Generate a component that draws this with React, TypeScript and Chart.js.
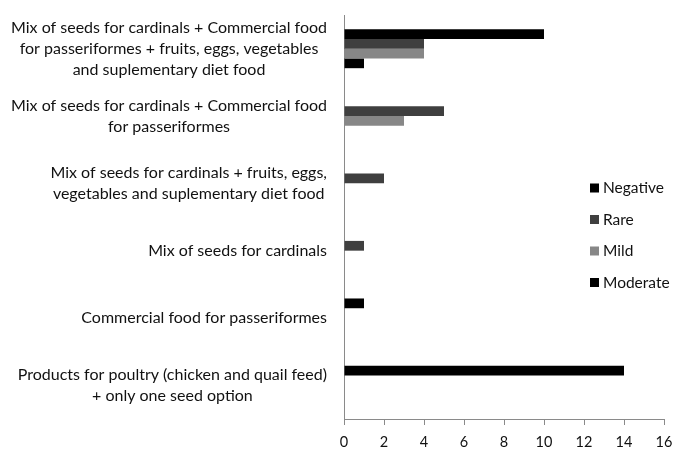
import React, { useEffect, useRef } from "react";
import { Chart, registerables } from "chart.js";

Chart.register(...registerables);

const categories: string[][] = [
  ["Mix of seeds for cardinals + Commercial food", "for passeriformes + fruits, eggs, vegetables", "and suplementary diet food"],
  ["Mix of seeds for cardinals + Commercial food", "for passeriformes"],
  ["Mix of seeds for cardinals + fruits, eggs,", "vegetables and suplementary diet food"],
  ["Mix of seeds for cardinals"],
  ["Commercial food for passeriformes"],
  ["Products for poultry (chicken and quail feed)", "+ only one seed option"],
];

const seriesNames = ["Negative", "Rare", "Mild", "Moderate"];
const negative = [10, 0, 0, 0, 1, 14];
const rare = [4, 5, 2, 1, 0, 0];
const mild = [4, 3, 0, 0, 0, 0];
const moderate = [1, 0, 0, 0, 0, 0];
const seriesColors = ["#000000", "#3f3f3f", "#878787", "#000000"];
const xTicks = [0, 2, 4, 6, 8, 10, 12, 14, 16];

const FONT = "Lato, 'Open Sans', sans-serif";

// Category labels: each block right-aligned to the axis, lines centred within the block
const categoryLabelPlugin = {
  id: "categoryLabels",
  afterDraw(chart: any) {
    const ctx = chart.ctx;
    const yScale = chart.scales.y;
    const right = yScale.right - 17;
    const lineH = 21;
    ctx.save();
    ctx.font = `16px ${FONT}`;
    ctx.fillStyle = "#111";
    ctx.textAlign = "center";
    ctx.textBaseline = "middle";
    (chart.data.labels as string[][]).forEach((lines, i) => {
      const cy = yScale.getPixelForValue(i);
      const widest = Math.max(...lines.map((l) => ctx.measureText(l).width));
      const cx = right - widest / 2;
      const y0 = cy - ((lines.length - 1) * lineH) / 2;
      lines.forEach((l, j) => ctx.fillText(l, cx, y0 + j * lineH));
    });
    ctx.restore();
  },
};

const legendPlugin = {
  id: "insideLegend",
  afterDraw(chart: any) {
    const ctx = chart.ctx;
    const area = chart.chartArea;
    const x0 = area.right - 74;
    const y0 = area.top + 173;
    const step = 31.5;
    ctx.save();
    ctx.font = `15.5px ${FONT}`;
    ctx.textBaseline = "middle";
    ctx.textAlign = "left";
    chart.data.datasets.forEach((ds: any, i: number) => {
      const y = y0 + i * step;
      ctx.fillStyle = ds.backgroundColor;
      ctx.fillRect(x0, y - 4.5, 9, 9);
      ctx.fillStyle = "#111";
      ctx.fillText(ds.label, x0 + 13, y);
    });
    ctx.restore();
  },
};

export default function App() {
  const ref = useRef<HTMLCanvasElement | null>(null);
  useEffect(() => {
    if (!ref.current) return;
    const values = [negative, rare, mild, moderate];
    const chart = new Chart(ref.current, {
      type: "bar",
      data: {
        labels: categories,
        datasets: seriesNames.map((name, i) => ({
          label: name,
          data: values[i],
          backgroundColor: seriesColors[i],
          borderWidth: 0,
          barPercentage: 1,
          categoryPercentage: 0.58,
        })),
      },
      options: {
        indexAxis: "y",
        animation: false,
        responsive: true,
        maintainAspectRatio: false,
        layout: { padding: { top: 15, right: 11, left: 0, bottom: 0 } },
        plugins: { legend: { display: false }, tooltip: { enabled: false } },
        scales: {
          x: {
            min: 0,
            max: 16,
            afterBuildTicks: (scale: any) => {
              scale.ticks = xTicks.map((v) => ({ value: v }));
            },
            afterFit: (scale: any) => {
              scale.height = 35;
              scale.paddingLeft = 0;
              scale.paddingRight = 0;
            },
            grid: {
              display: true,
              drawOnChartArea: false,
              drawTicks: true,
              tickLength: 6,
              color: "#8a8a8a",
            },
            border: { display: true, color: "#8a8a8a" },
            ticks: {
              color: "#111",
              font: { family: FONT, size: 14.5 },
              padding: 9,
              maxRotation: 0,
            },
          },
          y: {
            afterFit: (scale: any) => {
              scale.width = 344;
              scale.paddingTop = 0;
              scale.paddingBottom = 0;
            },
            grid: { display: false, drawTicks: false },
            border: { display: true, color: "#8a8a8a" },
            ticks: { display: false },
          },
        },
      },
      plugins: [categoryLabelPlugin, legendPlugin],
    } as any);
    return () => chart.destroy();
  }, []);
  return (
    <div style={{ position: "fixed", left: 0, top: 0, width: 675, height: 454, background: "#fff" }}>
      <canvas ref={ref} />
    </div>
  );
}
